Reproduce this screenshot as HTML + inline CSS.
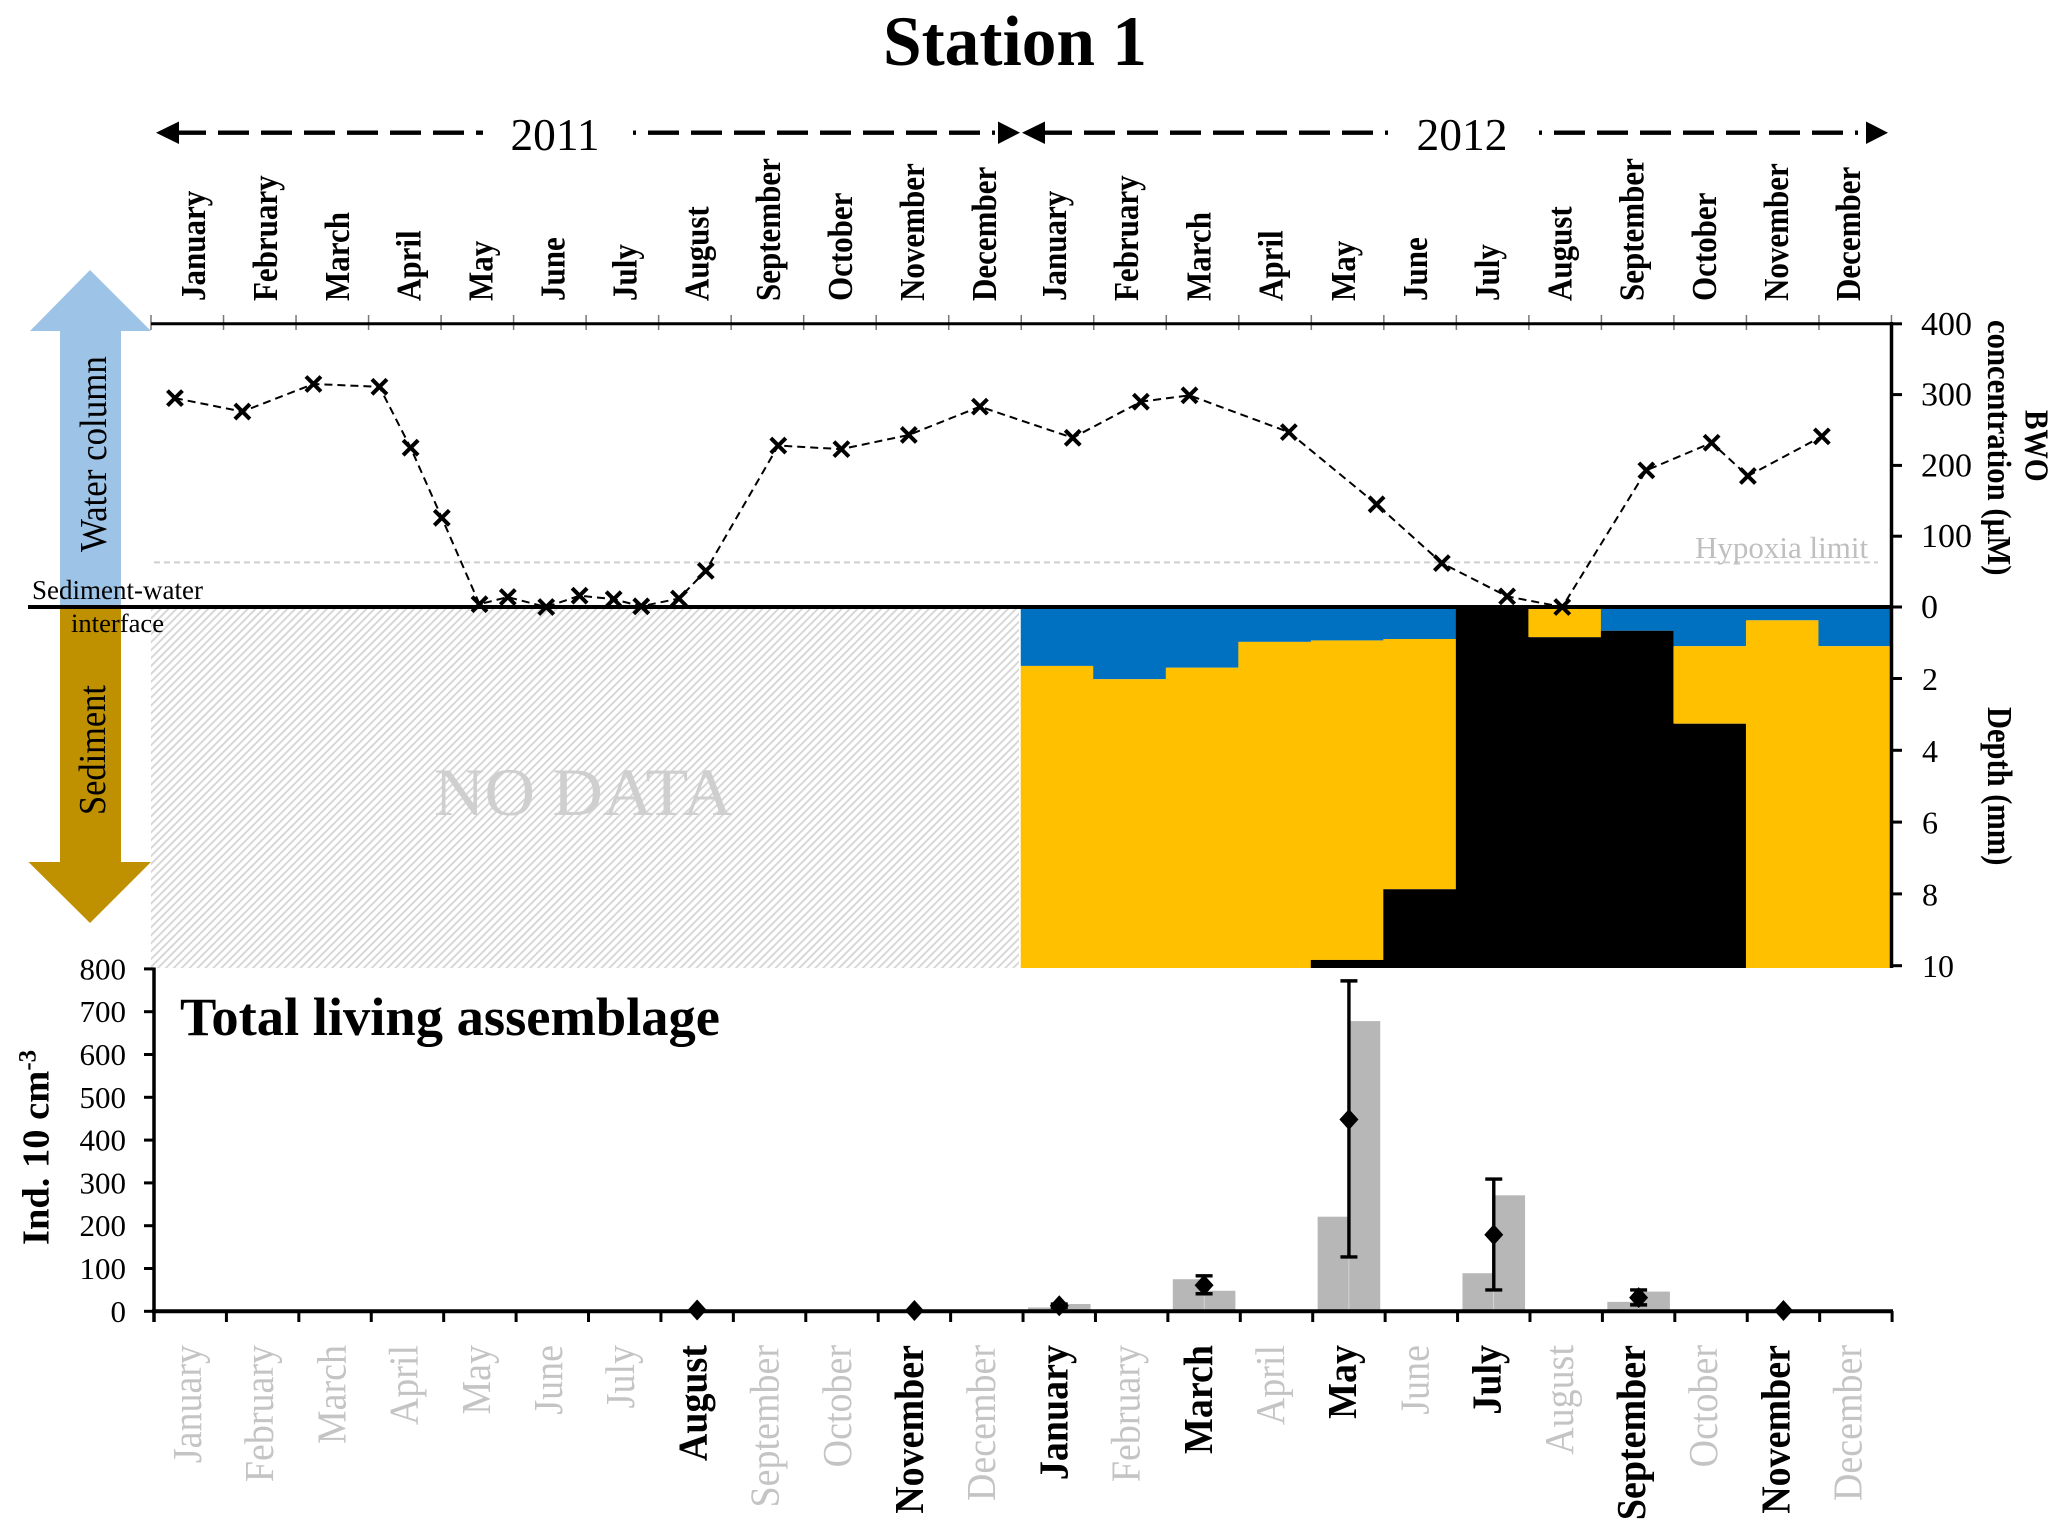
<!DOCTYPE html>
<html lang="en">
<head>
<meta charset="utf-8">
<title>Station 1</title>
<style>
html,body{margin:0;padding:0;background:#fff;}
svg{display:block;}
text{font-family:"Liberation Serif",serif;fill:#000;}
.b{font-weight:bold;}
</style>
</head>
<body>
<svg id="chart" xmlns="http://www.w3.org/2000/svg" width="2067" height="1540" viewBox="0 0 2067 1540">
  <defs>
    <pattern id="hatch" width="5.6" height="5.6" patternUnits="userSpaceOnUse" patternTransform="rotate(45)">
      <rect width="5.6" height="5.6" fill="#fff"/>
      <rect x="0" y="0" width="1.9" height="5.6" fill="#d6d6d6"/>
    </pattern>
  </defs>
  <rect width="2067" height="1540" fill="#fff"/>

  <text class="b" x="1015" y="65" font-size="71" text-anchor="middle" textLength="264" lengthAdjust="spacingAndGlyphs">Station 1</text>

  <g>
    <polygon points="156,132.7 179,121.5 179,144"/>
    <line x1="179" y1="132.7" x2="483" y2="132.7" stroke="#000" stroke-width="4.4" stroke-dasharray="27 12 31 12 31 12 31 12 31 12 31 12 31 12 8 0"/>
    <text x="555" y="150" font-size="46" text-anchor="middle" textLength="89" lengthAdjust="spacingAndGlyphs">2011</text>
    <line x1="633" y1="132.7" x2="998" y2="132.7" stroke="#000" stroke-width="4.4" stroke-dasharray="3 12 31 12 31 12 31 12 31 12 31 12 31 12 31 12 31 12"/>
    <polygon points="1020,132.7 998,121.5 998,144"/>
  </g>
  <g>
    <polygon points="1022,132.7 1045,121.5 1045,144"/>
    <line x1="1045" y1="132.7" x2="1388" y2="132.7" stroke="#000" stroke-width="4.4" stroke-dasharray="27 12 31 12 31 12 31 12 31 12 31 12 31 12 31 12 3 0"/>
    <text x="1462" y="150" font-size="46" text-anchor="middle" textLength="91" lengthAdjust="spacingAndGlyphs">2012</text>
    <line x1="1539" y1="132.7" x2="1866" y2="132.7" stroke="#000" stroke-width="4.4" stroke-dasharray="3 12 31 12 31 12 31 12 31 12 31 12 31 12 31 12"/>
    <polygon points="1888,132.7 1866,121.5 1866,144"/>
  </g>

  <polygon fill="#9DC3E6" points="90,270 151,331 121,331 121,607 60,607 60,331 30,331"/>
  <polygon fill="#BF9000" points="60,607 121,607 121,862 151,862 90,923 28.5,862 60,862"/>
  <text font-size="34.9" transform="translate(106,552) rotate(-90) scale(1,1.1)">Water column</text>
  <text font-size="34.4" transform="translate(105,815) rotate(-90) scale(1,1.1)">Sediment</text>

  <rect x="151" y="609" width="868" height="359" fill="url(#hatch)"/>
  <text x="434" y="815" font-size="68" textLength="299" lengthAdjust="spacingAndGlyphs" style="fill:#cfcfcf">NO DATA</text>

  <g id="sediment-columns"></g>

  <g id="top-axis"></g>
  <g id="right-axis"></g>

  <line id="hypoxia" stroke="#cfcfcf" stroke-width="2" stroke-dasharray="6 4"/>
  <text x="1695" y="558" font-size="31" style="fill:#bfbfbf">Hypoxia limit</text>

  <line x1="28" y1="607" x2="1891" y2="607" stroke="#000" stroke-width="4"/>
  <text x="32" y="599" font-size="27">Sediment-water</text>
  <text x="71" y="632" font-size="26.6">interface</text>

  <g id="bwo-series"></g>

  <text class="b" font-size="29.3" transform="translate(2025.5,410) rotate(90) scale(1,1.15)">BWO</text>
  <text class="b" font-size="30.7" transform="translate(1988,320) rotate(90) scale(1,1.1)">concentration (µM)</text>
  <text class="b" font-size="30.5" transform="translate(1988,707) rotate(90) scale(1,1.15)">Depth (mm)</text>

  <g id="assemblage"></g>
  <text class="b" x="180" y="1035" font-size="54.5" textLength="540" lengthAdjust="spacingAndGlyphs">Total living assemblage</text>
  <text class="b" font-size="38.5" transform="translate(48.4,1245) rotate(-90)">Ind. 10 cm<tspan font-size="25" dy="-13">-3</tspan></text>
</svg>

<script>
const monthNames = ["January","February","March","April","May","June","July","August","September","October","November","December"];
const bwoTicks = [0,100,200,300,400];
const depthTicks = [0,2,4,6,8,10];
const assemblageTicks = [0,100,200,300,400,500,600,700,800];
const hypoxiaLimit = 63;

const bwoTime = [0.33,1.26,2.24,3.15,3.58,4.01,4.53,4.92,5.45,5.91,6.38,6.76,7.28,7.65,8.65,9.52,10.45,11.43,12.71,13.65,14.32,15.69,16.90,17.80,18.70,19.46,20.62,21.52,22.02,23.04];
const bwoValues = [295,276,315,311,225,126,4,14,0,16,11,1,12,51,228,223,243,283,239,290,299,247,145,62,15,0,193,232,185,241];

const sedimentMonths = [12,13,14,15,16,17,18,19,20,21,22,23];
const oxicBottom = [1.65,2.02,1.70,0.98,0.94,0.90,0,0,0.67,1.10,0.38,1.10];
const suboxicBottom = [10,10,10,10,9.84,7.87,0,0.85,0.67,3.26,10,10];

const sampledMonths = [7,10,12,14,16,18,20,22];
const replicateA = [0,0,9,75,221,89,22,0];
const replicateB = [0,0,17,48,678,271,46,0];
const meanValues = [3,2,13,61,448,179,32,2];
const errorLow = [3,2,9,41,127,50,15,2];
const errorHigh = [3,2,17,83,772,309,50,2];

const NS = "http://www.w3.org/2000/svg";
const xTop = m => 151 + m * 72.52;
const yBwo = v => 607 - v * 0.708;
const yDepth = d => 606.7 + d * 35.9;
const xBottom = m => 154 + m * 72.42;
const yInd = v => 1311.3 - v * 0.428;
const xTopLabel = i => i < 12 ? 205 + 71.9 * i : 1066 + 72.2 * (i - 12);
const DEPTH_MAX = 10;
const PANEL_BOTTOM = 968;

function mk(tag, parent, attrs, txt) {
  const el = document.createElementNS(NS, tag);
  for (const k in attrs) el.setAttribute(k, attrs[k]);
  if (txt !== undefined) el.textContent = txt;
  parent.appendChild(el);
  return el;
}

const hyp = document.getElementById("hypoxia");
hyp.setAttribute("x1", 154);
hyp.setAttribute("x2", 1878);
hyp.setAttribute("y1", yBwo(hypoxiaLimit));
hyp.setAttribute("y2", yBwo(hypoxiaLimit));

/* top month axis */
const topAxis = document.getElementById("top-axis");
for (let i = 0; i <= 24; i++) {
  const t = mk("line", topAxis, {x1:xTop(i), x2:xTop(i), y1:315, y2:330, stroke:"#777", "stroke-width":1.5});
  
  
}
const topLine = mk("line", topAxis, {x1:151, x2:1891.5, y1:323.7, y2:323.7, stroke:"#000", "stroke-width":3});


for (let i = 0; i < 24; i++) {
  const lab = mk("text", topAxis, {"font-size":31, "font-weight":"bold", transform:"translate(" + xTopLabel(i) + ",301) rotate(-90) scale(1,1.12)"}, monthNames[i % 12]);
  
  
}

/* sediment columns */
const sed = document.getElementById("sediment-columns");
sedimentMonths.forEach((m, i) => {
  const x = xTop(m) - 0.5, w = xTop(m + 1) - xTop(m) + 1;
  const top = yDepth(0), yOx = yDepth(oxicBottom[i]);
  const sub = suboxicBottom[i];
  const ySub = sub >= DEPTH_MAX ? PANEL_BOTTOM : yDepth(sub);
  const o = mk("rect", sed, {x:x, y:top, width:w, height:yOx - top, fill:"#0070C0"});
  
  
  const s = mk("rect", sed, {x:x, y:yOx, width:w, height:Math.max(0, ySub - yOx), fill:"#FFC000"});
  
  
  const a = mk("rect", sed, {x:x, y:ySub, width:w, height:Math.max(0, PANEL_BOTTOM - ySub), fill:"#000"});
  
  
});

/* right axes */
const right = document.getElementById("right-axis");
const rLine = mk("line", right, {x1:1891.5, x2:1891.5, y1:322, y2:968, stroke:"#000", "stroke-width":3.5});


bwoTicks.forEach(v => {
  const t = mk("line", right, {x1:1891, x2:1902, y1:yBwo(v), y2:yBwo(v), stroke:"#000", "stroke-width":3});
  
  
  const l = mk("text", right, {x:1921, y:yBwo(v) + 11, "font-size":34}, v);
  
  
});
depthTicks.forEach(d => {
  if (d > 0) {
    const t = mk("line", right, {x1:1891, x2:1902, y1:yDepth(d), y2:yDepth(d), stroke:"#000", "stroke-width":3});
    
    
    const l = mk("text", right, {x:1922, y:yDepth(d) + 11.5, "font-size":32}, d);
    
    
  }
});

/* BWO line + markers */
const bwo = document.getElementById("bwo-series");
const pts = bwoTime.map((t, i) => xTop(t) + "," + yBwo(bwoValues[i])).join(" ");
const poly = mk("polyline", bwo, {points:pts, fill:"none", stroke:"#000", "stroke-width":2, "stroke-dasharray":"8 5"});


bwoTime.forEach((t, i) => {
  const cx = xTop(t), cy = yBwo(bwoValues[i]), r = 7.5;
  const p = mk("path", bwo, {d:"M" + (cx - r) + " " + (cy - r) + "L" + (cx + r) + " " + (cy + r) + "M" + (cx + r) + " " + (cy - r) + "L" + (cx - r) + " " + (cy + r), stroke:"#000", "stroke-width":4, fill:"none"});
  
  
});

/* assemblage chart */
const asm = document.getElementById("assemblage");
const BAR_W = 31.3;
sampledMonths.forEach((m, i) => {
  const c = xBottom(m + 0.5);
  if (replicateA[i] > 0) {
    const a = mk("rect", asm, {x:c - BAR_W, y:yInd(replicateA[i]), width:BAR_W - 0.2, height:yInd(0) - yInd(replicateA[i]), fill:"#b7b7b7"});
    
    
  }
  if (replicateB[i] > 0) {
    const b = mk("rect", asm, {x:c + 0.2, y:yInd(replicateB[i]), width:BAR_W - 0.2, height:yInd(0) - yInd(replicateB[i]), fill:"#b7b7b7"});
    
    
  }
});
const lAxis = mk("line", asm, {x1:154, x2:154, y1:967.5, y2:1322, stroke:"#000", "stroke-width":3.5});


const bAxis = mk("line", asm, {x1:152, x2:1893, y1:1311.3, y2:1311.3, stroke:"#000", "stroke-width":4});


assemblageTicks.forEach(v => {
  const t = mk("line", asm, {x1:144, x2:154, y1:yInd(v), y2:yInd(v), stroke:"#000", "stroke-width":3});
  
  
  const l = mk("text", asm, {x:126, y:yInd(v) + 10.5, "font-size":31, "text-anchor":"end"}, v);
  
  
});
for (let i = 0; i <= 24; i++) {
  const t = mk("line", asm, {x1:xBottom(i), x2:xBottom(i), y1:1311, y2:1322, stroke:"#000", "stroke-width":3});
  
  
}
for (let i = 0; i < 24; i++) {
  const sampled = sampledMonths.indexOf(i) >= 0;
  const l = mk("text", asm, {"font-size":38, "text-anchor":"end", "font-weight":sampled ? "bold" : "normal", style:"fill:" + (sampled ? "#000" : "#c4c4c4"), transform:"translate(" + (201 + 72.2 * i) + ",1345) rotate(-90) scale(1,1.08)"}, monthNames[i % 12]);
  
  
}
sampledMonths.forEach((m, i) => {
  const c = xBottom(m + 0.5);
  if (errorHigh[i] > errorLow[i]) {
    const e = mk("path", asm, {d:"M" + c + " " + yInd(errorHigh[i]) + "V" + yInd(errorLow[i]) + "M" + (c - 8.5) + " " + yInd(errorHigh[i]) + "h17M" + (c - 8.5) + " " + yInd(errorLow[i]) + "h17", stroke:"#000", "stroke-width":3.4, fill:"none"});
    
    
  }
  const y = yInd(meanValues[i]);
  const d = mk("polygon", asm, {points:c + "," + (y - 10.5) + " " + (c + 9.5) + "," + y + " " + c + "," + (y + 10.5) + " " + (c - 9.5) + "," + y, fill:"#000"});
  
  
});
</script>
</body>
</html>
